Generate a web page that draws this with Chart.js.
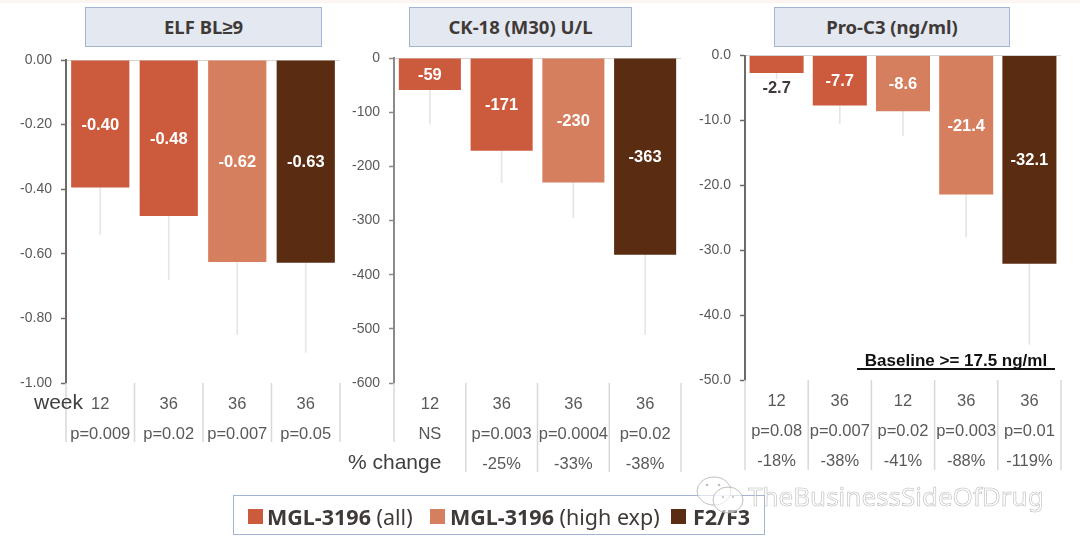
<!DOCTYPE html>
<html lang="en">
<head>
<meta charset="UTF-8">
<title>MGL-3196 biomarkers</title>
<script src="https://cdn.jsdelivr.net/npm/chart.js"></script>
<style>
  html, body { margin: 0; padding: 0; background: #fff; }
  body { width: 1080px; height: 548px; position: relative; overflow: hidden; font-family: "Liberation Sans", Arial, sans-serif; }
  canvas { position: absolute; top: 0; }
  .topband { position: absolute; left: 0; top: 0; width: 1080px; height: 3px; background: #fdf5f1; }
  .title { position: absolute; top: 7px; height: 38px; text-align: center; background: #e4e8f1; border: 1.5px solid #a3b4d3;
           font: bold 18.5px/37px "Noto Sans", sans-serif; color: #3f3a37; }
  .note { position: absolute; color: #404040; }
  .baseline { position: absolute; left: 857px; top: 352px; width: 198px; height: 16px; border-bottom: 2px solid #111; text-align: center;
              font: bold 17px/18px "Liberation Sans", sans-serif; color: #111; }
  .legend { position: absolute; left: 233px; top: 495px; width: 530px; height: 38px; border: 1.5px solid #a3b4d3; background: #fff; }
  .swatch { position: absolute; top: 13px; width: 15px; height: 15px; }
  .ltext { position: absolute; top: 0; line-height: 41px; font-family: "Noto Sans", sans-serif; font-size: 21.5px; color: #3f3a37; white-space: nowrap; }
  .mark { position: absolute; left: 695px; top: 474px; }
  .wm { position: absolute; left: 748px; top: 478px; font: 26px/36px "Noto Sans", sans-serif; color: rgba(255,255,255,.55);
        -webkit-text-stroke: .6px rgba(165,165,165,.75); white-space: nowrap; }
</style>
</head>
<body>
<div class="topband"></div>

<div class="title" style="left:85px;width:235px">ELF BL≥9</div>
<div class="title" style="left:409px;width:221px">CK-18 (M30) U/L</div>
<div class="title" style="left:774px;width:234px">Pro-C3 (ng/ml)</div>

<canvas id="elf" width="340" height="548" style="left:6px"></canvas>
<canvas id="ck18" width="350" height="548" style="left:334px"></canvas>
<canvas id="proc3" width="380" height="548" style="left:685px"></canvas>

<div class="note" style="left:34px;top:389px;font-size:21px;line-height:26px">week</div>
<div class="note" style="left:348px;top:449px;font-size:21px;line-height:26px">% change</div>
<div class="baseline">Baseline &gt;= 17.5 ng/ml</div>

<div class="legend">
  <div class="swatch" style="left:14px;background:#cc5b3e"></div>
  <div class="ltext" style="left:33px"><b>MGL-3196</b> (all)</div>
  <div class="swatch" style="left:196px;background:#d67f5f"></div>
  <div class="ltext" style="left:216px"><b>MGL-3196</b> (high exp)</div>
  <div class="swatch" style="left:437px;background:#5a2d12"></div>
  <div class="ltext" style="left:459px"><b>F2/F3</b></div>
</div>

<svg class="mark" width="56" height="44" viewBox="0 0 56 44">
  <g fill="rgba(255,255,255,.6)" stroke="rgba(175,175,175,.8)" stroke-width="1">
    <ellipse cx="19" cy="17" rx="17" ry="14"/>
    <ellipse cx="33" cy="26" rx="15" ry="13"/>
  </g>
  <g fill="rgba(175,175,175,.8)">
    <circle cx="12" cy="11" r="1.3"/><circle cx="24" cy="11" r="1.3"/>
    <circle cx="28" cy="23" r="1.1"/><circle cx="38" cy="23" r="1.1"/>
  </g>
</svg>
<div class="wm">TheBusinessSideOfDrug</div>

<script>
const BAR_ALL = '#cc5b3e';
const BAR_HIGH = '#d67f5f';
const BAR_F2F3 = '#5a2d12';
const WHISKER = '#e8e5e3';

// ELF BL>=9
const elfWeeks = ['12', '36', '36', '36'];
const elfP = ['p=0.009', 'p=0.02', 'p=0.007', 'p=0.05'];
const elfValues = [-0.395, -0.483, -0.625, -0.628];
const elfLabels = ['-0.40', '-0.48', '-0.62', '-0.63'];
const elfLow = [-0.54, -0.68, -0.85, -0.905];
const elfColors = [BAR_ALL, BAR_ALL, BAR_HIGH, BAR_F2F3];

// CK-18 (M30)
const ckWeeks = ['12', '36', '36', '36'];
const ckP = ['NS', 'p=0.003', 'p=0.0004', 'p=0.02'];
const ckChange = ['', '-25%', '-33%', '-38%'];
const ckValues = [-59, -171, -230, -363];
const ckLabels = ['-59', '-171', '-230', '-363'];
const ckLow = [-122, -230, -295, -511];
const ckColors = [BAR_ALL, BAR_ALL, BAR_HIGH, BAR_F2F3];

// Pro-C3
const proWeeks = ['12', '36', '12', '36', '36'];
const proP = ['p=0.08', 'p=0.007', 'p=0.02', 'p=0.003', 'p=0.01'];
const proChange = ['-18%', '-38%', '-41%', '-88%', '-119%'];
const proValues = [-2.7, -7.7, -8.6, -21.4, -32.1];
const proLabels = ['-2.7', '-7.7', '-8.6', '-21.4', '-32.1'];
const proLow = [-3.6, -10.5, -12.3, -28, -44.5];
const proColors = [BAR_ALL, BAR_ALL, BAR_HIGH, BAR_HIGH, BAR_F2F3];

// white figure in the middle of each bar, or dark under it when the bar is too short
const barLabels = {
  id: 'barLabels',
  afterDatasetsDraw(chart, args, opts) {
    const ctx = chart.ctx;
    ctx.save();
    ctx.font = 'bold 16.5px "Liberation Sans"';
    ctx.textAlign = 'center';
    ctx.textBaseline = 'middle';
    chart.getDatasetMeta(0).data.forEach((bar, i) => {
      const small = Math.abs(bar.y - bar.base) < 25;
      ctx.fillStyle = small ? '#3f3a37' : '#fff';
      ctx.fillText(opts.text[i], bar.x, small ? bar.y + 15 : (bar.y + bar.base) / 2 + 1);
    });
    ctx.restore();
  }
};

// divider lines of the little table under each panel
const tableLines = {
  id: 'tableLines',
  afterDraw(chart, args, opts) {
    const area = chart.chartArea;
    const step = area.width / chart.data.labels.length;
    const ctx = chart.ctx;
    ctx.save();
    ctx.strokeStyle = '#ddd7d3';
    ctx.lineWidth = 1.5;
    opts.lengths.forEach((len, i) => {
      ctx.beginPath();
      ctx.moveTo(area.left + i * step, area.bottom);
      ctx.lineTo(area.left + i * step, area.bottom + len);
      ctx.stroke();
    });
    ctx.restore();
  }
};

function drawPanel(id, cfg) {
  new Chart(document.getElementById(id), {
    type: 'bar',
    data: {
      labels: cfg.rows,
      datasets: [
        { data: cfg.values, backgroundColor: cfg.colors, barPercentage: cfg.barPct, categoryPercentage: 1, grouped: false },
        { data: cfg.values.map((v, i) => [v, cfg.low[i]]), backgroundColor: WHISKER, barThickness: 1, grouped: false }
      ]
    },
    plugins: [barLabels, tableLines],
    options: {
      responsive: false,
      animation: false,
      layout: { padding: { top: cfg.top, bottom: 0, left: 0, right: cfg.right } },
      plugins: {
        legend: { display: false },
        tooltip: { enabled: false },
        barLabels: { text: cfg.labels },
        tableLines: { lengths: cfg.lines }
      },
      scales: {
        x: {
          grid: { display: false },
          border: { display: false },
          // the table rows live in the x axis, so its height is whatever is left under the plot
          afterFit: s => { s.height = 548 - cfg.bottom; },
          ticks: {
            autoSkip: false, maxRotation: 0, padding: cfg.rowPad, color: '#595959',
            font: { family: '"Liberation Sans"', size: 16.5, lineHeight: '30px' }
          }
        },
        y: {
          min: cfg.min, max: 0,
          afterFit: s => { s.width = 60; },
          border: { color: cfg.axis, width: 2 },
          grid: {
            tickLength: 5, tickColor: cfg.axis, tickWidth: 1.5,
            color: c => Math.abs(c.tick.value) < 1e-9 ? '#d9d4d0' : 'transparent'
          },
          ticks: {
            stepSize: cfg.step, padding: cfg.tickPad, color: '#595959',
            font: { family: '"Liberation Sans"', size: 14 },
            callback: v => Number(v).toFixed(cfg.dec)
          }
        }
      }
    }
  });
}

drawPanel('elf', {
  rows: elfWeeks.map((w, i) => [w, elfP[i]]),
  values: elfValues, low: elfLow, labels: elfLabels, colors: elfColors,
  min: -1, step: 0.2, dec: 2, top: 60, bottom: 383, right: 6, barPct: 0.85, rowPad: -2, tickPad: 9,
  axis: '#6f6a66', lines: [59, 59, 59, 59, 59]
});
drawPanel('ck18', {
  rows: ckWeeks.map((w, i) => [w, ckP[i], ckChange[i]]),
  values: ckValues, low: ckLow, labels: ckLabels, colors: ckColors,
  min: -600, step: 100, dec: 0, top: 58, bottom: 383, right: 3, barPct: 0.865, rowPad: -2, tickPad: 9,
  axis: '#8f8986', lines: [59, 89, 89, 89, 89]
});
drawPanel('proc3', {
  rows: proWeeks.map((w, i) => [w, proP[i], proChange[i]]),
  values: proValues, low: proLow, labels: proLabels, colors: proColors,
  min: -50, step: 10, dec: 1, top: 55.5, bottom: 380, right: 4, barPct: 0.855, rowPad: -2, tickPad: 9,
  axis: '#6f6a66', lines: [90, 90, 90, 90, 90, 90]
});
</script>
</body>
</html>
